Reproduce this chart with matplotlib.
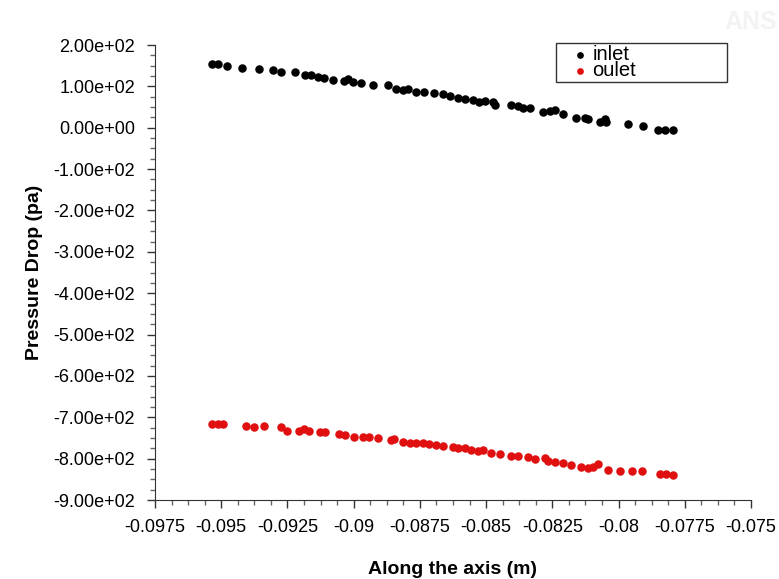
import numpy as np
import matplotlib.pyplot as plt
from matplotlib.ticker import MultipleLocator, AutoMinorLocator, FormatStrFormatter, FuncFormatter

plt.rcParams['font.family'] = ['Liberation Sans', 'DejaVu Sans']

# values
inlet_x = [-0.09533, -0.09514, -0.09477, -0.09420, -0.09359, -0.09304, -0.09275, -0.09221,
           -0.09183, -0.09161, -0.09136, -0.09111, -0.09079, -0.09035, -0.09023, -0.09004,
           -0.08972, -0.08928, -0.08871, -0.08840, -0.08815, -0.08796, -0.08764, -0.08733,
           -0.08695, -0.08663, -0.08638, -0.08607, -0.08581, -0.08550, -0.08525, -0.08506,
           -0.08474, -0.08468, -0.08405, -0.08380, -0.08361, -0.08336, -0.08285, -0.08260,
           -0.08241, -0.08210, -0.08159, -0.08128, -0.08115, -0.08071, -0.08052, -0.08046,
           -0.07964, -0.07907, -0.07850, -0.07825, -0.07794]
inlet_p = [153.9, 153.2, 149.8, 144.2, 141.0, 139.3, 133.7, 133.7, 126.5, 127.2, 123.1, 119.2,
           115.1, 111.9, 116.8, 110.2, 108.5, 104.6, 102.9, 94.9, 92.5, 93.2, 86.7, 86.7, 85.2,
           81.1, 76.2, 73.1, 69.7, 66.5, 62.4, 64.8, 62.4, 54.4, 54.4, 52.0, 48.8, 47.8, 38.1,
           40.5, 43.9, 34.2, 24.5, 23.6, 20.4, 13.8, 20.4, 13.1, 8.3, 5.1, -4.6, -4.6, -6.3]

outlet_x = [-0.09533, -0.09514, -0.09495, -0.09407, -0.09376, -0.09338, -0.09275, -0.09253,
            -0.09208, -0.09187, -0.09170, -0.09127, -0.09107, -0.09054, -0.09031, -0.08997,
            -0.08966, -0.08941, -0.08909, -0.08859, -0.08846, -0.08815, -0.08789, -0.08764,
            -0.08739, -0.08714, -0.08688, -0.08663, -0.08626, -0.08607, -0.08581, -0.08556,
            -0.08531, -0.08512, -0.08480, -0.08449, -0.08405, -0.08380, -0.08342, -0.08317,
            -0.08279, -0.08266, -0.08241, -0.08210, -0.08178, -0.08140, -0.08115, -0.08096,
            -0.08077, -0.08039, -0.07995, -0.07951, -0.07913, -0.07844, -0.07819, -0.07794]
outlet_p = [-716.7, -716.7, -716.7, -720.6, -723.0, -720.6, -724.0, -732.0, -732.0, -728.8,
            -732.0, -734.4, -734.4, -740.0, -742.4, -747.3, -747.3, -747.3, -749.0, -754.6,
            -753.1, -760.4, -761.8, -762.8, -762.8, -764.3, -766.7, -769.1, -772.5, -774.9,
            -774.9, -778.1, -780.5, -778.8, -787.1, -788.5, -794.4, -792.7, -796.8, -801.6,
            -799.2, -805.5, -808.9, -811.3, -814.5, -819.3, -821.8, -819.3, -812.8, -827.3,
            -829.0, -829.0, -829.0, -837.1, -837.1, -839.5]

fig = plt.figure(figsize=(7.79, 5.79), dpi=100)
ax = fig.add_axes([0.199, 0.1364, 0.765, 0.7858])

ax.scatter(inlet_x, inlet_p, s=26, color='black', label='inlet', zorder=3)
ax.scatter(outlet_x, outlet_p, s=26, color='#e01010', label='oulet', zorder=3)

ax.set_xlim(-0.0975, -0.075)
ax.set_ylim(-900, 200)
ax.xaxis.set_major_locator(MultipleLocator(0.0025))
ax.xaxis.set_minor_locator(AutoMinorLocator(4))
ax.yaxis.set_major_locator(MultipleLocator(100))
ax.yaxis.set_minor_locator(AutoMinorLocator(4))
ax.yaxis.set_major_formatter(FormatStrFormatter('%.2e'))
ax.xaxis.set_major_formatter(FuncFormatter(lambda v, p: '%g' % round(v, 6)))

for s in ['top', 'right']:
    ax.spines[s].set_visible(False)
for s in ['left', 'bottom']:
    ax.spines[s].set_color('#333333')
ax.tick_params(which='major', length=5.5, width=1, color='#333333', labelsize=13)
ax.tick_params(which='minor', length=3.5, width=1, color='#666666')
ax.tick_params(axis='y', which='major', pad=9)
ax.tick_params(axis='x', which='major', pad=8)

ax.set_xlabel('Along the axis (m)', fontsize=14, fontweight='bold', labelpad=18)
ax.set_ylabel('Pressure Drop (pa)', fontsize=14, fontweight='bold', labelpad=7.5)

leg = ax.legend(loc='upper left', bbox_to_anchor=(0.673, 0.924, 0.287, 0.08), mode='expand',
                fontsize=14.5, frameon=True, fancybox=False, borderpad=0.1,
                labelspacing=-0.15, handletextpad=-0.5, handlelength=2.2,
                borderaxespad=0, markerscale=0.75)
leg.get_frame().set_edgecolor('black')
leg.get_frame().set_linewidth(1)

fig.text(0.997, 0.962, 'ANS', fontsize=18, color='#f3f3f3', fontweight='bold',
         ha='right', va='center')

fig.savefig('out.png', dpi=100)
